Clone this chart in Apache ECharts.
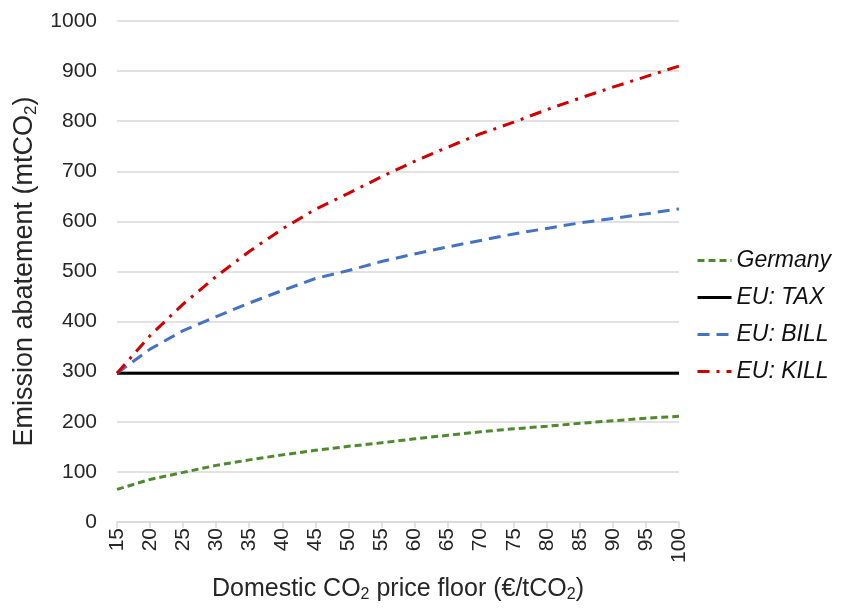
<!DOCTYPE html>
<html>
<head>
<meta charset="utf-8">
<script src="https://cdn.jsdelivr.net/npm/echarts@6/dist/echarts.min.js"></script>
<style>html,body{margin:0;padding:0;background:#fff}#c{width:852px;height:608px}</style>
</head>
<body>
<div id="c"></div>
<script>
const categories = ['15','20','25','30','35','40','45','50','55','60','65','70','75','80','85','90','95','100'];
const germany = [65, 85, 99, 113, 124, 134, 143, 151, 158, 166, 173, 180, 186, 191, 197, 202, 207, 211];
const euTax   = [297, 297, 297, 297, 297, 297, 297, 297, 297, 297, 297, 297, 297, 297, 297, 297, 297, 297];
const euBill  = [297, 345, 382, 410, 437, 462, 486, 502, 520, 535, 549, 562, 575, 586, 597, 606, 615, 625];
const euKill  = [297, 372, 435, 490, 540, 585, 624, 656, 689, 720, 748, 775, 798, 823, 846, 868, 889, 910];
const yTicks = { min: 0, max: 1000, interval: 100 };

const font = 'Liberation Sans, Arial, sans-serif';
const txt = '#262626';
const chart = echarts.init(document.getElementById('c'), null, { renderer: 'canvas' });
function line(name, data, color, type, width) {
  return {
    name, type: 'line', data, symbol: 'none', smooth: false,
    lineStyle: { color, width, type, cap: 'butt' },
    itemStyle: { color },
    emphasis: { disabled: true }, animation: false
  };
}
const subRich = { s: { fontFamily: font, fontSize: 16, color: txt, verticalAlign: 'bottom', padding: [12,0,0,0] } };
const subRichY = { s: { fontFamily: font, fontSize: 17, color: txt, verticalAlign: 'bottom', padding: [13,0,0,0] } };
chart.setOption({
  animation: false,
  backgroundColor: '#fff',
  grid: { left: 117, right: 173, top: 21, bottom: 86, containLabel: false, outerBoundsMode: 'none' },
  legend: {
    orient: 'vertical', left: 696, top: 249, padding: 0,
    itemWidth: 34, itemHeight: 14, itemGap: 14,
    itemStyle: { opacity: 0, color: 'rgba(0,0,0,0)', borderWidth: 0 },
    lineStyle: { width: 3 },
    textStyle: { fontFamily: font, fontSize: 23, fontStyle: 'italic', color: '#111' },
    data: ['Germany', 'EU: TAX', 'EU: BILL', 'EU: KILL']
  },
  xAxis: {
    type: 'category', data: categories, boundaryGap: false,
    name: 'Domestic CO{s|2} price floor (€/tCO{s|2})',
    nameLocation: 'middle', nameGap: 53,
    nameTextStyle: { fontFamily: font, fontSize: 25, color: txt, rich: subRich },
    axisLine: { show: true, lineStyle: { color: '#d9d9d9', width: 1.5 } },
    axisTick: { show: true, alignWithLabel: true, length: 6, lineStyle: { color: '#d9d9d9', width: 1.5 } },
    axisLabel: { rotate: 90, margin: 6, fontFamily: font, fontSize: 21, color: txt, interval: 0 },
    splitLine: { show: false }
  },
  yAxis: {
    type: 'value', min: yTicks.min, max: yTicks.max, interval: yTicks.interval,
    name: 'Emission abatement (mtCO{s|2})',
    nameLocation: 'middle', nameGap: 72, nameRotate: 90,
    nameTextStyle: { fontFamily: font, fontSize: 27, color: txt, rich: subRichY },
    axisLine: { show: false },
    axisTick: { show: false },
    axisLabel: { margin: 20, fontFamily: font, fontSize: 21, color: txt, formatter: v => String(v) },
    splitLine: { show: true, lineStyle: { color: '#d9d9d9', width: 1.5 } }
  },
  series: [
    line('Germany', germany, '#4e8a2c', [7, 4], 3),
    line('EU: TAX', euTax, '#000000', 'solid', 3),
    line('EU: BILL', euBill, '#4472c4', [12, 7], 3),
    line('EU: KILL', euKill, '#d00000', [12, 7, 3, 7], 3)
  ]
});
</script>
</body>
</html>
